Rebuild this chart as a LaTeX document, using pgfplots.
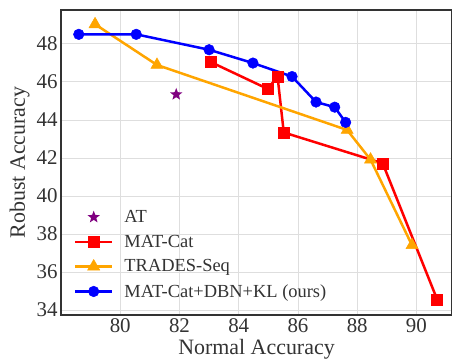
\documentclass[border=0pt]{standalone}
\usepackage{pgfplots}
\pgfplotsset{compat=1.18}
\usepackage{fontspec}
\setmainfont{Liberation Serif}
\definecolor{myorange}{RGB}{255,165,0}
\definecolor{mypurple}{RGB}{128,0,128}
\pgfdeclareplotmark{fstar}{%
 \pgfpathmoveto{\pgfpointpolar{90}{\pgfplotmarksize}}%
 \pgfpathlineto{\pgfpointpolar{126}{0.42\pgfplotmarksize}}%
 \pgfpathlineto{\pgfpointpolar{162}{\pgfplotmarksize}}%
 \pgfpathlineto{\pgfpointpolar{198}{0.42\pgfplotmarksize}}%
 \pgfpathlineto{\pgfpointpolar{234}{\pgfplotmarksize}}%
 \pgfpathlineto{\pgfpointpolar{270}{0.42\pgfplotmarksize}}%
 \pgfpathlineto{\pgfpointpolar{306}{\pgfplotmarksize}}%
 \pgfpathlineto{\pgfpointpolar{342}{0.42\pgfplotmarksize}}%
 \pgfpathlineto{\pgfpointpolar{18}{\pgfplotmarksize}}%
 \pgfpathlineto{\pgfpointpolar{54}{0.42\pgfplotmarksize}}%
 \pgfpathclose\pgfusepathqfill}
\begin{document}
\begin{tikzpicture}
\begin{axis}[
 at={(0,0)}, anchor=south west,
 scale only axis, width=391bp, height=305bp,
 xmin=78, xmax=91.2, ymin=33.74, ymax=49.78,
 xtick={80,82,...,90}, ytick={34,36,...,48},
 grid=major, major grid style={draw=black!13, line width=0.8bp},
 axis line style={draw=black!80, line width=1.3bp},
 tick style={draw=none},
 ticklabel style={font=\fontsize{21}{21}\selectfont, text=black!80},
 /pgf/number format/assume math mode=true,
 xlabel={Normal Accuracy}, ylabel={Robust Accuracy},
 label style={font=\fontsize{22}{22}\selectfont, text=black!80},
 legend style={at={(0.025,0.04)}, anchor=south west, draw=none, fill=none,
   font=\fontsize{18.5}{18.5}\selectfont, text=black!80, row sep=7bp,
   /tikz/every odd column/.append style={column sep=9bp}},
 legend cell align=left,
 legend image code/.code={\draw[mark repeat=2,mark phase=2] plot coordinates {(0bp,0bp) (18.5bp,0bp) (37bp,0bp)};},
 every axis plot/.append style={line width=2.5bp},
]
\addplot[only marks, mypurple, mark=fstar, mark size=6.5bp] coordinates {(81.89,45.34)};
\addlegendentry{AT}
\addplot[red, mark=square*, mark size=5.5bp, mark options={solid, fill=red, line width=0.5bp}] coordinates {
(83.06,47.04) (84.98,45.63) (85.31,46.29) (85.52,43.34) (88.86,41.72) (90.7,34.55)};
\addlegendentry{MAT-Cat}
\addplot[myorange, mark=triangle*, mark size=7bp, mark options={solid, fill=myorange, line width=0.5bp}] coordinates {
(79.15,49.03) (81.24,46.89) (87.66,43.47) (88.45,41.91) (89.85,37.41)};
\addlegendentry{TRADES-Seq}
\addplot[blue, mark=*, mark size=5.3bp, mark options={solid, fill=blue, line width=0.5bp}] coordinates {
(78.6,48.5) (80.54,48.5) (83.0,47.69) (84.48,46.99) (85.8,46.28) (86.61,44.94) (87.24,44.67) (87.61,43.87)};
\addlegendentry{MAT-Cat+DBN+KL (ours)}
\end{axis}
\pgfresetboundingbox
\path[use as bounding box] (-61bp,-49bp) rectangle (391bp,315bp);
\end{tikzpicture}
\end{document}
